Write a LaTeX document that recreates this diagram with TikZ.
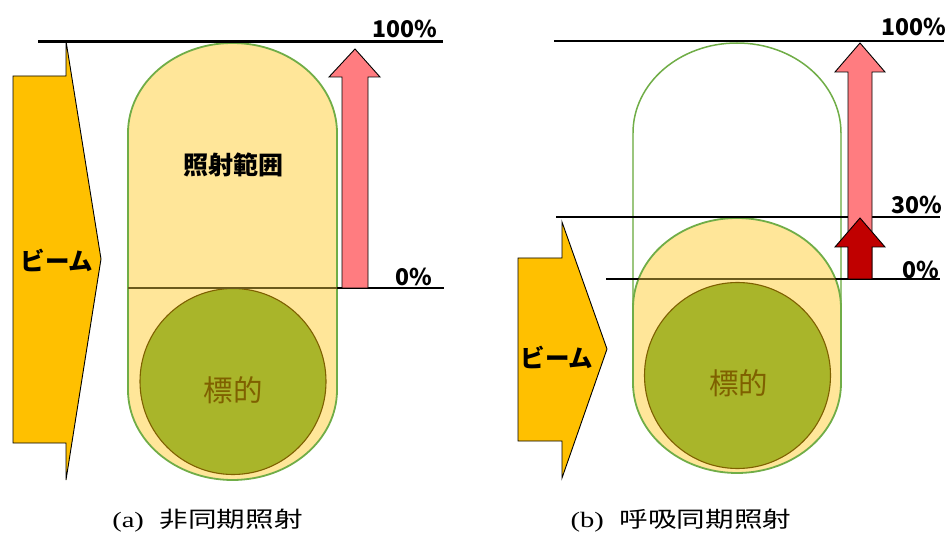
\documentclass[tikz,border=0pt]{standalone}
\usepackage{fontspec}
\newfontfamily\jp{Noto Sans CJK JP}
\newfontfamily\capserif{Liberation Serif}
\usepackage{graphicx}
\definecolor{beam}{HTML}{FFC000}
\definecolor{capfill}{HTML}{FFE699}
\definecolor{capline}{HTML}{70AD47}
\definecolor{target}{HTML}{A9B52A}
\definecolor{targetline}{HTML}{7F6000}
\definecolor{pinkarrow}{HTML}{FF7C80}
\definecolor{darkarrow}{HTML}{C00000}
\definecolor{inline}{HTML}{6B5A1C}
\tikzset{
  level/.style={line width=2.4pt, draw=black},
  inlevel/.style={line width=2.4pt, draw=inline},
  beamshape/.style={fill=beam, draw=black, line width=0.9pt, line join=miter},
  capsule/.style={fill=capfill, draw=capline, line width=1.8pt},
  ghostarc/.style={draw=capline, line width=1.5pt},
  ghostside/.style={draw=capline!70, line width=1.3pt},
  targetc/.style={circle, fill=target, draw=targetline, line width=1.1pt, minimum size=186pt, inner sep=0pt},
  uparrow/.style={draw=black, line width=0.9pt, line join=miter},
  pct/.style={font=\jp\bfseries\fontsize{23}{27}\selectfont, inner sep=0pt},
  beamlabel/.style={font=\jp\bfseries\fontsize{24.5}{28}\selectfont, inner sep=0pt},
  zonelabel/.style={font=\jp\bfseries\fontsize{25}{29}\selectfont, inner sep=0pt},
  tgtlabel/.style={font=\jp\fontsize{29.5}{33}\selectfont, text=targetline, inner sep=0pt},
  caption/.style={inner sep=0pt}
}
\begin{document}
\begin{tikzpicture}[x=1pt,y=-1pt]
\useasboundingbox (0,0) rectangle (948,537);

% ---------------- (a) ----------------
% beam arrow
\draw[beamshape] (13,76) -- (66,76) -- (66,41) -- (101,259) -- (66,480) -- (66,443) -- (13,443) -- cycle;
% capsule
\draw[capsule] (128,133) arc[start angle=180,end angle=360,x radius=104.5,y radius=90]
  -- (337,390) arc[start angle=0,end angle=180,x radius=104.5,y radius=90] -- cycle;
% target
\node[targetc] (tgtA) at (233,381.5) {};
% level lines
\coordinate (a100L) at (38,41.5);
\coordinate (a100R) at (443,41.5);
\coordinate (a0L) at (128,288);
\coordinate (a0R) at (444,288);
\draw[level] (a100L) -- (a100R);
\draw[level] (a0L) -- (a0R);
\begin{scope}
  \clip (128,133) arc[start angle=180,end angle=360,x radius=104.5,y radius=90]
    -- (337,390) arc[start angle=0,end angle=180,x radius=104.5,y radius=90] -- cycle;
  \draw[inlevel] (a0L) -- (a0R);
\end{scope}
% pink arrow
\draw[uparrow, fill=pinkarrow] (342,288) -- (342,77) -- (329,77) -- (355,49) -- (380,77) -- (368,77) -- (368,288) -- cycle;
% labels
\node[pct] (a100) at (405,28.5) {100\%};
\node[pct] (a0) at (414,277) {0\%};
\node[beamlabel] (beamA) at (57,260) {ビーム};
\node[zonelabel] (zoneA) at (233,165) {照射範囲};
\node[tgtlabel] (tgtAlab) at (233,390) {標的};

% ---------------- (b) ----------------
% beam arrow
\draw[beamshape] (518,258) -- (562,258) -- (562,222) -- (607,349) -- (562,478) -- (562,441) -- (518,441) -- cycle;
% ghost capsule
\draw[ghostarc] (633,133) arc[start angle=180,end angle=360,x radius=104,y radius=90];
\draw[ghostside] (633,133) -- (633,380);
\draw[ghostside] (841,133) -- (841,380);
% solid capsule
\draw[capsule] (633,308) arc[start angle=180,end angle=360,x radius=104,y radius=90]
  -- (841,383) arc[start angle=0,end angle=180,x radius=104,y radius=90] -- cycle;
% target
\node[targetc] (tgtB) at (737.5,375.5) {};
% level lines
\coordinate (b100L) at (554,41);
\coordinate (b100R) at (944,41);
\coordinate (b30L) at (556,217);
\coordinate (b30R) at (940,217);
\coordinate (b0L) at (606,279);
\coordinate (b0R) at (940,279);
\draw[level] (b100L) -- (b100R);
\draw[level] (b30L) -- (b30R);
\draw[level] (b0L) -- (b0R);
\begin{scope}
  \clip (633,308) arc[start angle=180,end angle=360,x radius=104,y radius=90]
    -- (841,383) arc[start angle=0,end angle=180,x radius=104,y radius=90] -- cycle;
  \draw[inlevel] (b0L) -- (b0R);
\end{scope}
% arrows
\draw[uparrow, fill=pinkarrow] (848,279) -- (848,72) -- (835,72) -- (860,43) -- (885,72) -- (872,72) -- (872,279) -- cycle;
\draw[uparrow, fill=darkarrow] (848,279) -- (848,247) -- (835,247) -- (860,218) -- (885,247) -- (872,247) -- (872,279) -- cycle;
% labels
\node[pct] (b100) at (914,27) {100\%};
\node[pct] (b30) at (917,205) {30\%};
\node[pct] (b0) at (921,270) {0\%};
\node[beamlabel] (beamB) at (557,357) {ビーム};
\node[tgtlabel] (tgtBlab) at (738.5,383) {標的};

% ---------------- captions ----------------
\node[caption] (capA) at (207.5,521) {\scalebox{1.3}[1]{\fontsize{22}{26}\selectfont\capserif (a)\hspace{0.55em}\jp 非同期照射}};
\node[caption] (capB) at (681,521) {\scalebox{1.3}[1]{\fontsize{22}{26}\selectfont\capserif (b)\hspace{0.55em}\jp 呼吸同期照射}};
\end{tikzpicture}
\end{document}
